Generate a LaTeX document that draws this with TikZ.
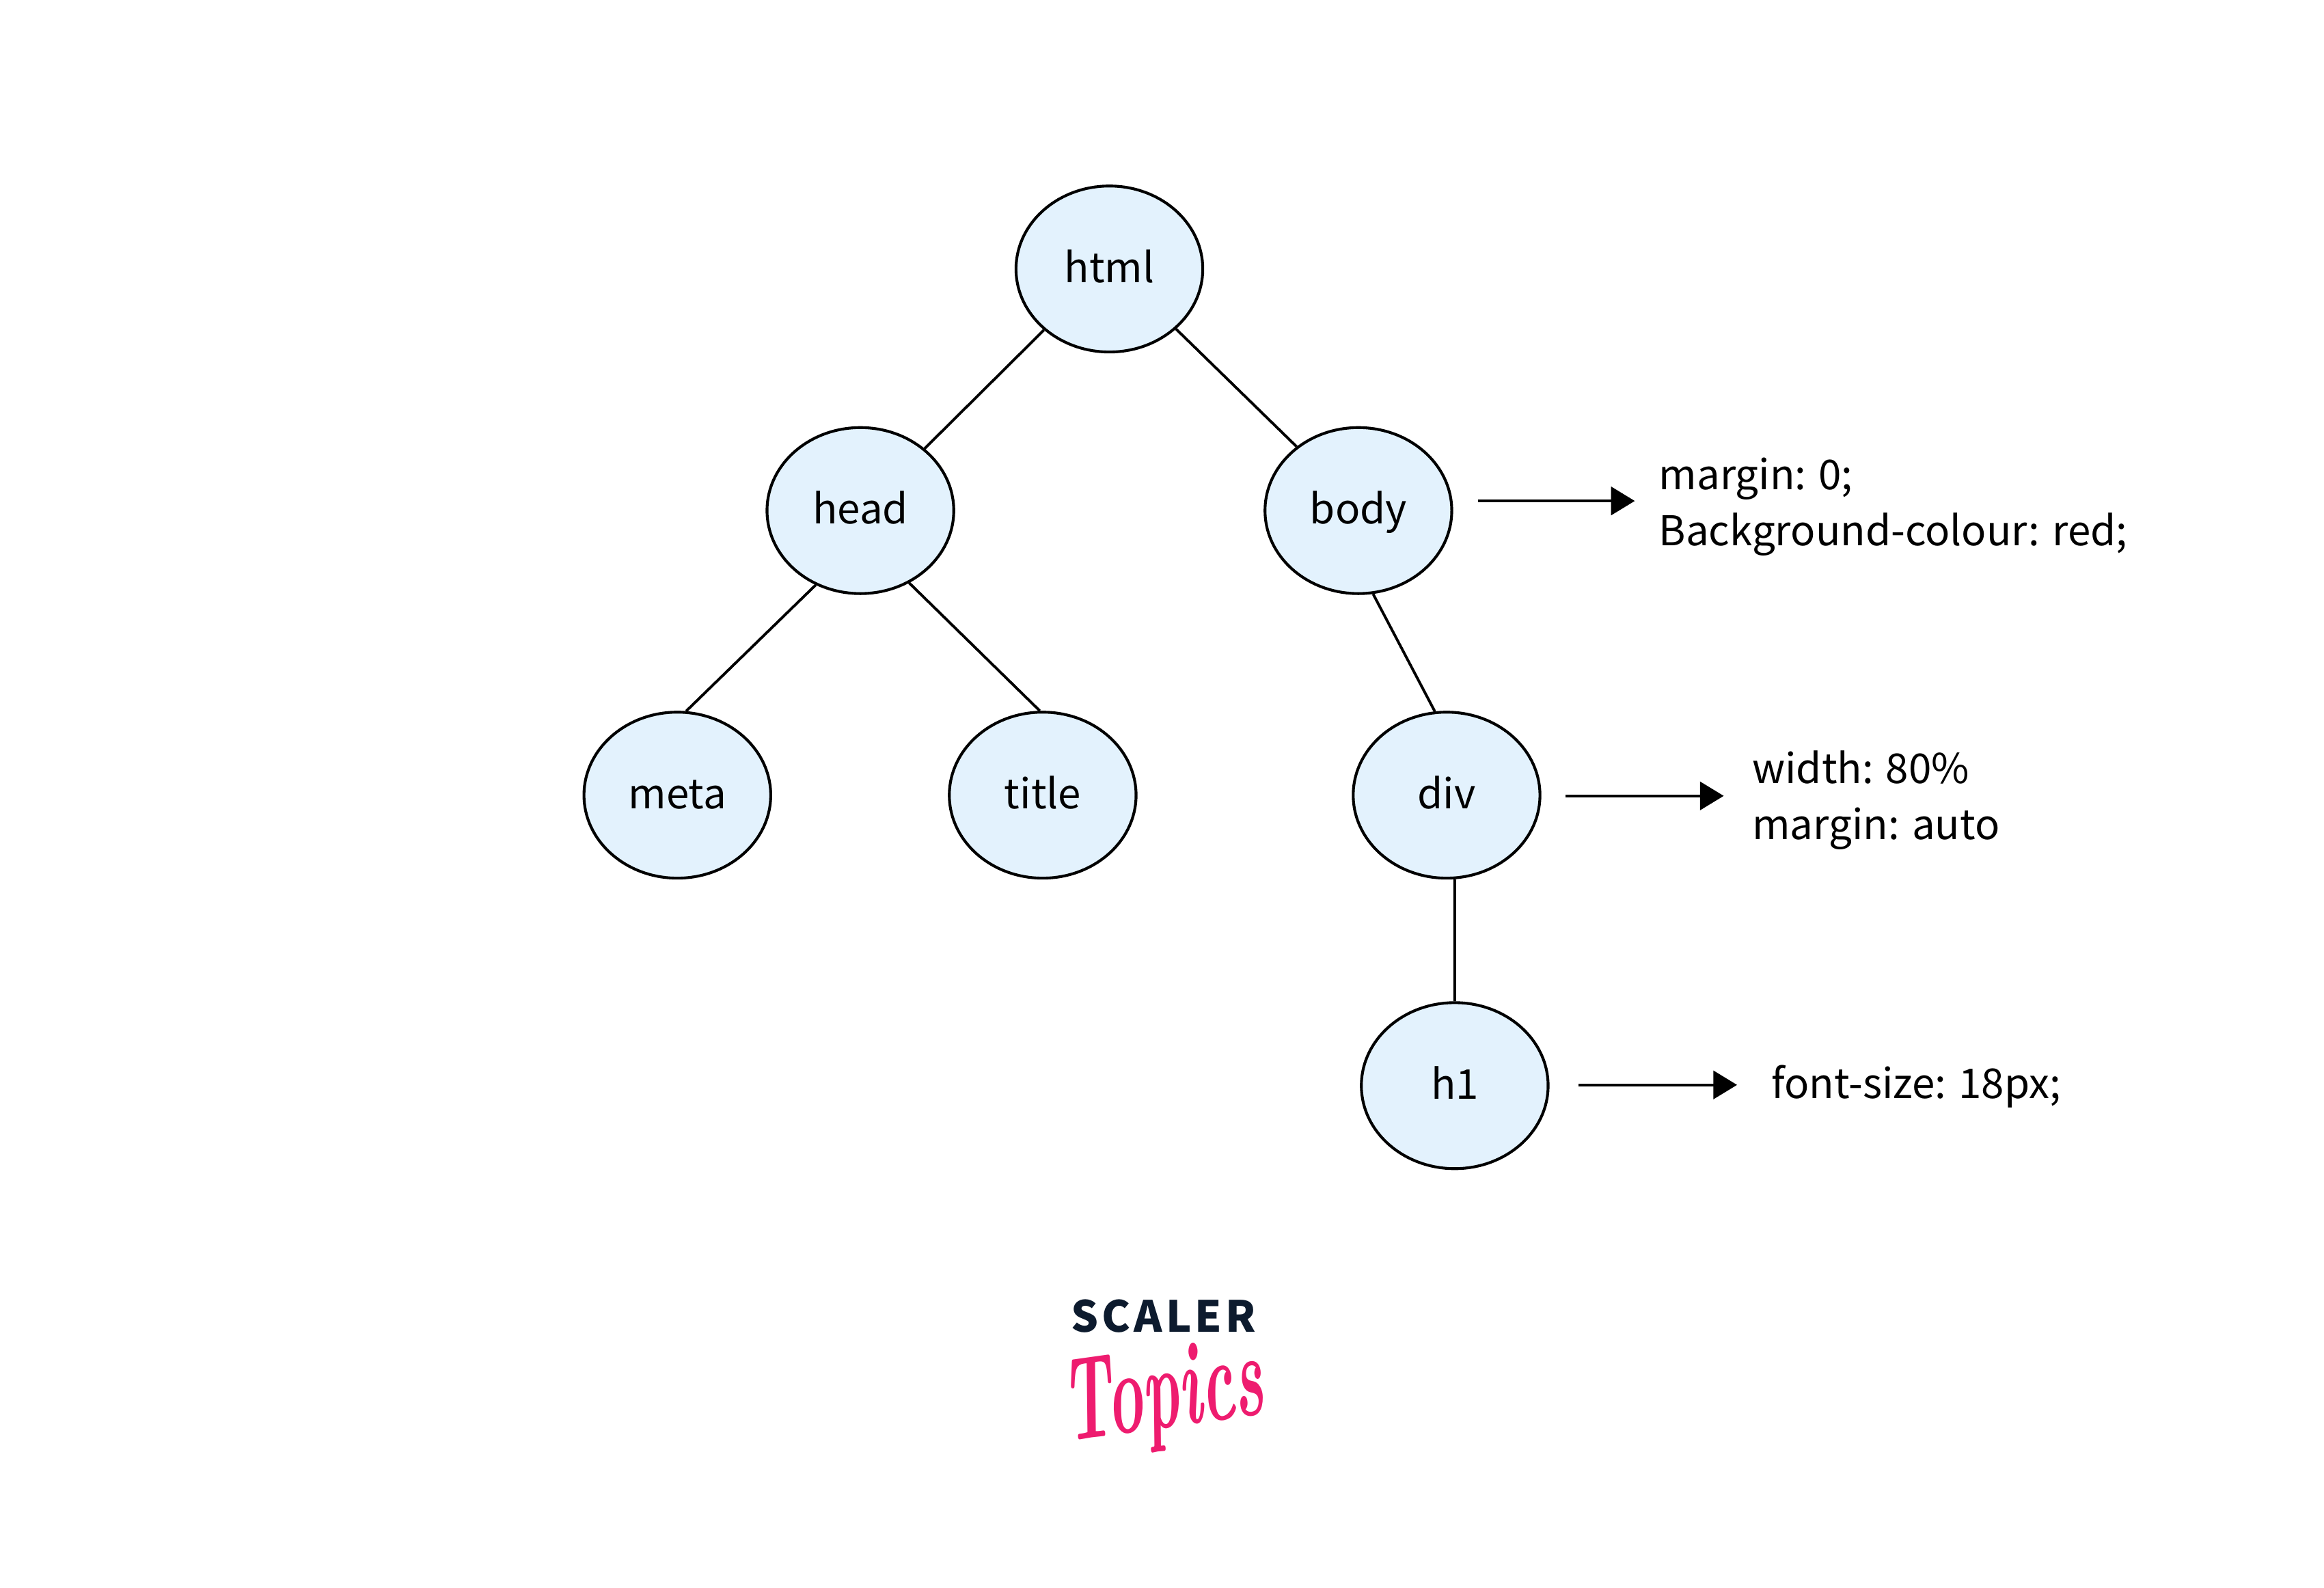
\documentclass[tikz,border=0pt]{standalone}
\usepackage{fontspec}
\setsansfont{Noto Sans CJK SC}
\newfontfamily\logofont[LetterSpace=8]{Noto Sans CJK SC}
\usetikzlibrary{shapes.geometric, arrows.meta}
\definecolor{nodeblue}{HTML}{E3F2FD}
\definecolor{logonavy}{HTML}{0D1B2E}
\definecolor{logopink}{HTML}{EE1C6F}
\tikzset{
  treenode/.style={ellipse, draw=black, fill=nodeblue, line width=1.9pt, minimum width=126pt, minimum height=112pt, inner sep=0pt, text height=18pt, text depth=0pt, font=\sffamily\fontsize{27.7}{38}\selectfont},
  cssnote/.style={anchor=west, align=left, inner sep=0pt, font=\sffamily\fontsize{27.7}{38}\selectfont},
  edge/.style={line width=1.8pt},
  rulearrow/.style={line width=1.8pt, -{Triangle[length=16pt,width=19pt]}}
}

\begin{document}
\begin{tikzpicture}[x=1pt, y=-1pt]
        \useasboundingbox (0,0) rectangle (1568,1071);
        \foreach \n/\x/\y in {html/748.5/181.5, head/580.5/344.5, body/916.5/344.5, meta/457/536.5, title/703.5/536.5, div/976/536.5, h1/981.5/732.5}{
        \node[treenode] (\n) at (\x,\y) {\n};
        }
        \draw[edge] (html.223) -- (head.44) (html.318) -- (body.134) (head.239) -- (meta.84) (head.304) -- (title.92) (body.280) -- (div.98) (h1.north |- div.south) -- (h1.north);
        \node[cssnote] (bodycss) at (1119,342) {margin: 0;\\Background-colour: red;};
        \node[cssnote] (divcss) at (1182,540) {width: 80\%\\margin: auto};
        \node[cssnote] (hcss) at (1195,733) {font-size: 18px;};
        \coordinate (a) at (997,338);
        \coordinate (b) at (1103,338);
        \coordinate (c) at (1056,537);
        \coordinate (d) at (1163,537);
        \coordinate (e) at (1065,732);
        \coordinate (f) at (1172,732);
        \draw[rulearrow] (a) -- (b);
        \draw[rulearrow] (c) -- (d);
        \draw[rulearrow] (e) -- (f);
        \node[inner sep=0pt, text=logonavy, font=\logofont\bfseries\fontsize{29}{29}\selectfont] (scaler) at (785,888) {SCALER};
        \node[inner sep=0pt, text=logopink, rotate=8, font=\rmfamily\bfseries\itshape\fontsize{80}{80}\selectfont] (topics) at (785,944) {\scalebox{.52}[1]{Topics}};
      \end{tikzpicture}
\end{document}
